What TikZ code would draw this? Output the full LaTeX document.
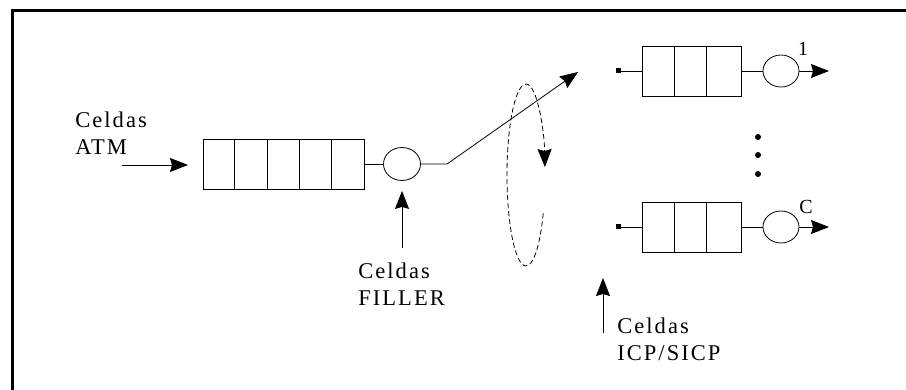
\documentclass[tikz,border=0pt]{standalone}
\usepackage{fontspec}
\setmainfont{Liberation Serif}
\newfontfamily\celfont[LetterSpace=9]{Liberation Serif}
\usetikzlibrary{arrows.meta,shapes.geometric}

\begin{document}
\begin{tikzpicture}[x=1pt,y=-1pt,>={Stealth[length=18pt,width=14pt,inset=2pt]},line width=0.8pt,
    cola/.style={draw,minimum height=50pt,inner sep=0pt},
    srv/.style={draw,ellipse,minimum width=37pt,minimum height=33pt,inner sep=0pt},
    lbl/.style={anchor=north west,inner sep=0pt,align=left,font=\celfont\fontsize{22.5}{27}\selectfont},
    dot/.style={circle,fill,inner sep=0pt,minimum size=6pt}]
  \useasboundingbox (0,0) rectangle (906,390);
  \draw[line width=3pt] (12,390) -- (12,11) -- (906,11);
  % cola de entrada
  \node[cola,minimum width=161pt] (fifo) at (283.5,164) {};
  \foreach \k in {1,...,4}
    \draw ([xshift=\k*32.2pt]fifo.south west) -- ([xshift=\k*32.2pt]fifo.north west);
  \node[srv] (srv) at (402,164) {};
  \draw (fifo.east) -- (srv.west);
  \coordinate (knee) at (447,164);
  \coordinate (sel) at (578,72);
  \draw[->] (srv.east) -- (knee) -- (sel);
  \node[lbl] (atm) at (75,111) {Celdas\\ATM};
  \coordinate (atmin) at (122,165);
  \draw[->] (atmin) -- ++(66,0);
  \node[lbl] (filler) at (358,262) {Celdas\\FILLER};
  \coordinate (fillin) at (402,248);
  \draw[->] (fillin) -- ([yshift=-10pt]srv.south);
  % giro del selector
  \coordinate (giro) at (526,175);
  \draw[dash pattern=on 5pt off 3pt,->] ([shift={(25:19 and 91)}]giro)
    arc[start angle=25,end angle=355,x radius=19,y radius=91];
  % colas de salida
  \foreach \n/\y in {1/71,C/227} {
    \node[cola,minimum width=99pt] (q\n) at (691.5,\y) {};
    \foreach \k in {1,2}
      \draw ([xshift=\k*32.5pt]q\n.south west) -- ([xshift=\k*32.5pt]q\n.north west);
    \node[fill,inner sep=0pt,minimum size=5pt] (in\n) at (618,\y) {};
    \node[srv,minimum width=36pt,minimum height=32pt] (s\n) at (781,\y) {};
    \coordinate (out\n) at (829,\y);
    \draw (in\n) -- (q\n.west);
    \draw (q\n.east) -- (s\n.west);
    \draw[->] (s\n.east) -- (out\n);
  }
  \node[font=\fontsize{20}{20}\selectfont] (lab1) at (803,49) {1};
  \node[font=\fontsize{20}{20}\selectfont] (labC) at (806,207) {C};
  \foreach \y [count=\i] in {137,155,174}
    \node[dot] (d\i) at (758,\y) {};
  \node[lbl] (icp) at (617,317) {Celdas\\ICP/SICP};
  \coordinate (icpin) at (603,333);
  \coordinate (icptip) at (603,278);
  \draw[->] (icpin) -- (icptip);
\end{tikzpicture}
\end{document}
